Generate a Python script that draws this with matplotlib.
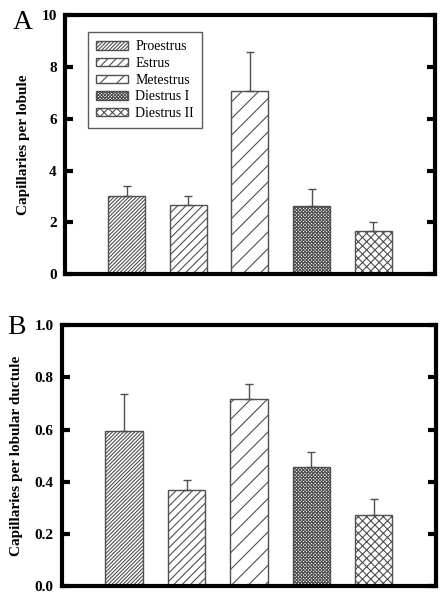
import matplotlib
matplotlib.use('Agg')
import matplotlib.pyplot as plt

# Capillary counts across the estrous cycle
stages = ['Proestrus', 'Estrus', 'Metestrus', 'Diestrus I', 'Diestrus II']
hatches = ['/////////', '////', '//', 'xxxxxxxxxx', 'xxxx']

lobule_mean = [3.0, 2.67, 7.07, 2.65, 1.68]
lobule_err = [0.42, 0.35, 1.5, 0.62, 0.32]

ductule_mean = [0.594, 0.368, 0.716, 0.457, 0.272]
ductule_err = [0.144, 0.038, 0.06, 0.058, 0.061]

plt.rcParams['font.family'] = 'Liberation Serif'
plt.rcParams['hatch.linewidth'] = 0.8
plt.rcParams['hatch.color'] = '#555555'


def draw_panel(ax, means, errs, ymax, yticks, ylabel, fmt, letter, lx, ly):
    x = range(1, len(means) + 1)
    lows = [0] * len(errs)
    for xi, m, h, lab in zip(x, means, hatches, stages):
        ax.bar(xi, m, width=0.6, color='white', edgecolor='#505050',
               hatch=h, linewidth=1.0, label=lab, zorder=2)
    ax.errorbar(list(x), means, yerr=[lows, errs], fmt='none',
                ecolor='#505050', elinewidth=1.0, capsize=3, capthick=1.0,
                zorder=3)
    ax.set_xlim(0, 6)
    ax.set_ylim(0, ymax)
    ax.set_xticks([])
    ax.set_yticks(yticks)
    ax.set_yticklabels([fmt.format(t) for t in yticks],
                       fontsize=11, fontweight='bold')
    ax.tick_params(axis='y', direction='in', length=6, width=3,
                   right=True, pad=6)
    for sp in ax.spines.values():
        sp.set_linewidth(3)
    ax.set_ylabel(ylabel, fontsize=11, fontweight='bold', labelpad=8)
    ax.text(lx, ly, letter, transform=ax.transAxes, fontsize=20,
            ha='left', va='center')


fig = plt.figure(figsize=(4.48, 6.0), dpi=100)

ax1 = fig.add_axes([0.145, 0.543, 0.826, 0.432])
draw_panel(ax1, lobule_mean, lobule_err, 10, [0, 2, 4, 6, 8, 10],
           'Capillaries per lobule', '{:.0f}', 'A', -0.14, 0.972)
leg = ax1.legend(loc='upper left', bbox_to_anchor=(0.062, 0.934),
                 borderaxespad=0, fontsize=10, frameon=True, fancybox=False,
                 handlelength=2.3, handleheight=0.55, handletextpad=0.5,
                 labelspacing=0.26, borderpad=0.6)
leg.get_frame().set_edgecolor('#333333')
leg.get_frame().set_linewidth(1.0)

ax2 = fig.add_axes([0.138, 0.023, 0.835, 0.435])
draw_panel(ax2, ductule_mean, ductule_err, 1.0,
           [0.0, 0.2, 0.4, 0.6, 0.8, 1.0],
           'Capillaries per lobular ductule', '{:.1f}', 'B', -0.147, 0.99)

fig.savefig('out.png', dpi=100)
